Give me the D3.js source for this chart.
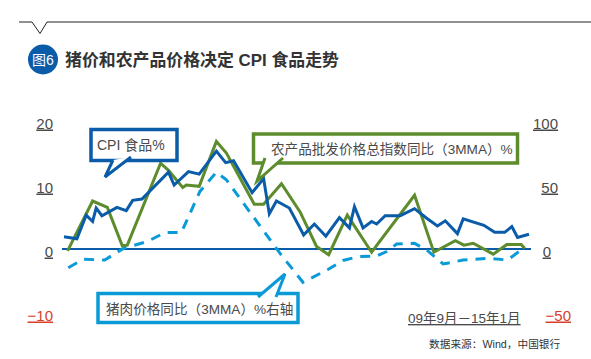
<!DOCTYPE html>
<html>
<head>
<meta charset="utf-8">
<script src="https://cdnjs.cloudflare.com/ajax/libs/d3/7.8.5/d3.min.js"></script>
<style>
html, body { margin: 0; padding: 0; background: #fff; }
svg { display: block; }
text { font-family: "Liberation Sans", "Noto Sans CJK SC", sans-serif; fill: #4a4a4a; }
</style>
</head>
<body>
<svg id="chart" width="591" height="359"></svg>
<script>
// values, month = months since 09年9月
const cpiMonths = [0,1.8,3.1,4,4.5,5.3,7.4,8.7,9.6,10.9,14.6,15.4,17.4,18.9,21.3,22.6,23.7,26.3,27.9,28.7,29.7,31.5,33.5,35,36.6,38.5,39.9,40.6,41.8,43,43.7,44.9,47,49,50.7,52.2,53.3,55,55.8,58.7,60.2,61.6,62.6,63.4,65]
const cpiValues = [1.9,1.6,5.3,4.3,6.4,5.2,6.5,6,7.6,7.8,12,10,12.1,11.7,15.3,13.5,13.8,8.8,11,5.5,7.5,6.4,2.2,3.9,2,4.9,3.3,6.6,3.3,4.3,3.9,5.2,5.2,6.3,4.8,3.6,4.4,2.4,4.7,3.7,2.6,2.6,3.5,1.8,2.3]
const farmMonths = [0.5,4,6.06,8.15,8.85,13.5,14.6,16.6,17.1,18.9,21.3,22.7,26.6,27.9,30.4,33,35.3,37,39.6,43,49,51.7,54.7,55.9,57.2,60,61.9,63.9,64.4]
const farmValues = [-0.3,7.5,6.5,0.5,0.6,13.4,12.3,9.6,10,9.8,16.8,15,7,7,10.2,5.8,0.4,-0.9,5.3,-0.5,8.4,-0.5,1.3,0.6,0.9,-0.8,0.7,0.7,0.1]
const porkMonths = [0.6,2.7,5.7,8.3,11.6,14.1,16.4,19,21.3,22.7,30.2,33.4,36.9,39,41.1,43.7,45.1,46.5,49,50.7,53,55.8,59.5,62,64.2]
const porkValues = [-14.6,-8,-8.6,0.5,5.7,12.8,12.8,45,60,54,-3.4,-26,-16,-9,-6,-5.5,-2,3.9,4.4,-0.8,-11.7,-8.6,-7.3,-8.6,0.5]
const leftTicks = [20,10,0,-10]
const rightTicks = [100,50,0,-50]

const blue = "#0a5ba8", green = "#5c8c2c", cyan = "#0a9ad8", red = "#d8402a"

const svg = d3.select("#chart")

let x = d3.scaleLinear().domain([0,65]).range([64,529])
let yLeft = d3.scaleLinear().domain([-10,20]).range([313,121])
let yRight = d3.scaleLinear().domain([-50,100]).range([313,121])

// header
svg.append("path").attr("d","M19,22H32L40,33.5L47,22H591").attr("fill","none").attr("stroke","#222").attr("stroke-width",1)
svg.append("circle").attr("cx",43).attr("cy",59.5).attr("r",15).attr("fill",blue)
svg.append("text").attr("x",43).attr("y",65).attr("text-anchor","middle").attr("font-size",14).style("fill","#fff").text("图6")
svg.append("text").attr("x",65).attr("y",65.5).attr("font-size",16.9).attr("font-weight","bold").style("fill","#333").text("猪价和农产品价格决定 CPI 食品走势")

// axes
const axisLeft = d3.axisLeft(yLeft).tickValues(leftTicks).tickSize(0).tickPadding(0).tickFormat(d => d < 0 ? "−" + (-d) : d)
const gl = svg.append("g").attr("transform","translate(53,0)").call(axisLeft)
const axisRight = d3.axisRight(yRight).tickValues(rightTicks).tickSize(0).tickPadding(0).tickFormat(d => d < 0 ? "−" + (-d) : d)
const gr = svg.append("g").attr("transform","translate(558,0)").call(axisRight)
svg.selectAll("g .domain").remove()
gl.selectAll("text").attr("dy",7).attr("font-size",15).style("text-decoration","underline").style("fill",d => d < 0 ? red : "#4a4a4a")
gr.selectAll("text").attr("dy",7).attr("font-size",15).attr("text-anchor","end").attr("x",d => d === 0 ? -7 : d < 0 ? 13 : 0).style("text-decoration","underline").style("fill",d => d < 0 ? red : "#4a4a4a")

// zero line
svg.append("line").attr("x1",62).attr("x2",531).attr("y1",yLeft(0)).attr("y2",yLeft(0)).attr("stroke",blue).attr("stroke-width",2)

// series
const lineLeft = d3.line().x(d => x(d[0])).y(d => yLeft(d[1]))
const lineRight = d3.line().x(d => x(d[0])).y(d => yRight(d[1]))
svg.append("path").datum(d3.zip(porkMonths,porkValues)).attr("d",lineRight).attr("fill","none").attr("stroke",cyan).attr("stroke-width",3).attr("stroke-dasharray","10,8")
svg.append("path").datum(d3.zip(farmMonths,farmValues)).attr("d",lineLeft).attr("fill","none").attr("stroke",green).attr("stroke-width",3)
svg.append("path").datum(d3.zip(cpiMonths,cpiValues)).attr("d",lineLeft).attr("fill","none").attr("stroke",blue).attr("stroke-width",3)

// callouts
function callout(bx, by, bw, bh, tail, color, label, tx, ty, fs){
    svg.append("rect").attr("x",bx).attr("y",by).attr("width",bw).attr("height",bh).attr("fill","#fff").attr("stroke",color).attr("stroke-width",3.5)
    svg.append("polygon").attr("points",tail.map(p => p.join(",")).join(" ")).attr("fill","#fff")
    svg.append("polyline").attr("points",tail.map(p => p.join(",")).join(" ")).attr("fill","none").attr("stroke",color).attr("stroke-width",3)
    svg.append("text").attr("x",tx).attr("y",ty).attr("font-size",fs).text(label)
}
callout(91,129.5,86,31,[[113,160],[105,177],[131,157]],blue,"CPI 食品%",97,150,14)
callout(253.5,134,264,29,[[265,158],[257,181],[283,158]],green,"农产品批发价格总指数同比（3MMA）%",271,154,13.6)
callout(98,293.5,200,29,[[258,297],[285,274],[276,297]],cyan,"猪肉价格同比（3MMA）%右轴",106,314,13.6)

// footer
svg.append("text").attr("x",408).attr("y",323).attr("font-size",13.5).style("text-decoration","underline").text("09年9月－15年1月")
svg.append("text").attr("x",429).attr("y",348).attr("font-size",10.7).style("fill","#333").text("数据来源：Wind，中国银行")
</script>
</body>
</html>
